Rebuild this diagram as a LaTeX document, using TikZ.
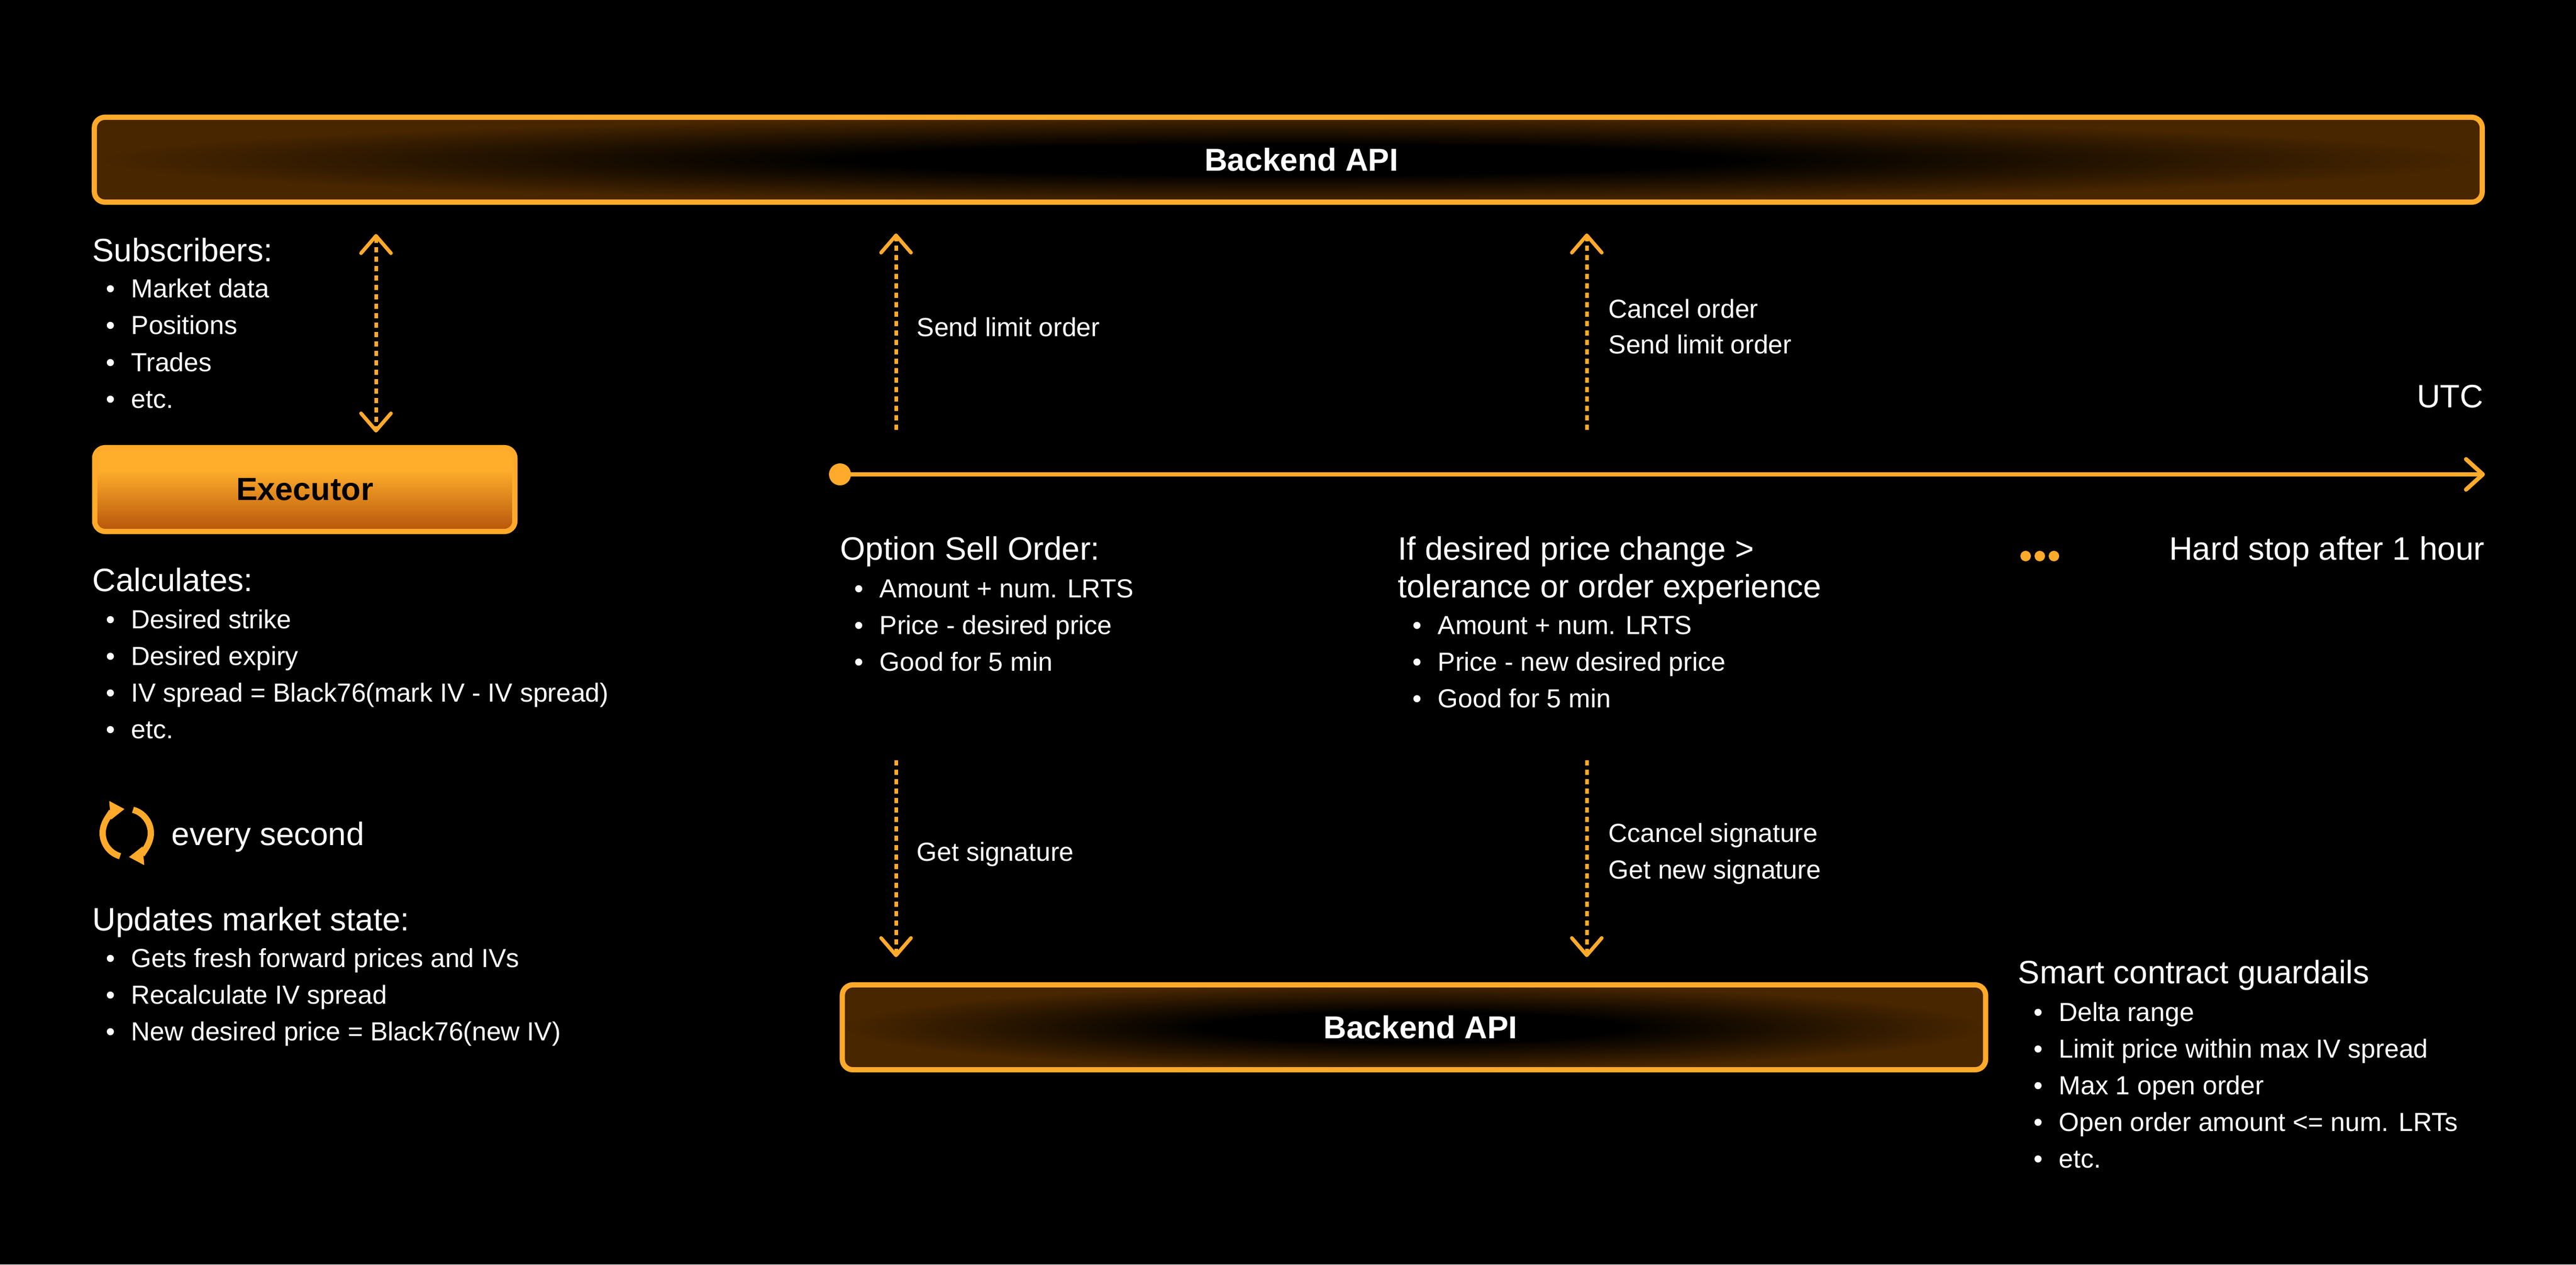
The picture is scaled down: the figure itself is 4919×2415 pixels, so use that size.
\documentclass[tikz,border=0pt]{standalone}
\usepackage{fontspec}
\setmainfont{Liberation Sans}
\usetikzlibrary{arrows.meta}
\usetikzlibrary{calc,positioning}

\definecolor{amber}{RGB}{255,170,42}
\definecolor{apibrown}{RGB}{72,38,0}
\definecolor{exetop}{RGB}{255,174,44}
\definecolor{exebot}{RGB}{182,84,10}

\pgfdeclareradialshading{apiglow}{\pgfpoint{0bp}{0bp}}{color(0bp)=(black); color(9bp)=(black); color(25bp)=(apibrown); color(50bp)=(apibrown)}
\pgfdeclareverticalshading{exeglow}{100bp}{color(0bp)=(exebot); color(25bp)=(exebot); color(62bp)=(exetop); color(100bp)=(exetop)}

\tikzset{
  apibox/.style={draw=amber, line width=0.1cm, rounded corners=0.2cm, shade, shading=apiglow,
    minimum height=1.62cm, inner sep=0pt, text=white, font=\fontsize{17.2}{20}\selectfont\bfseries},
  exebox/.style={draw=amber, line width=0.1cm, rounded corners=0.2cm, shade, shading=exeglow,
    minimum width=8.02cm, minimum height=1.6cm, inner sep=0pt, text=black, font=\fontsize{17.4}{20}\selectfont\bfseries},
  head/.style={anchor=base west, inner sep=0pt, text=white, font=\fontsize{17.6}{21}\selectfont},
  item/.style={anchor=base west, inner sep=0pt, text=white, font=\fontsize{14.2}{17}\selectfont},
  note/.style={anchor=base west, inner sep=0pt, text=white, font=\fontsize{14.2}{17}\selectfont},
  flow/.style={amber, line width=0.07cm, dash pattern=on 0.1cm off 0.08cm},
  spin/.style={amber, line width=0.12cm, -{Triangle[length=0.28cm,width=0.34cm]}},
}

\begin{document}
\begin{tikzpicture}[x=0.01cm, y=-0.01cm, >={Straight Barb[length=0.33cm,width=0.57cm,round]}]
    \fill[black] (0,0) rectangle (4919,2415);

    % boxes
    \node[apibox, minimum width=45.57cm] (apitop) at (2460,305) {\hspace*{0.5cm}Backend API};
    \node[exebox] (exec) at (582,935) {Executor};
    \node[apibox, minimum width=21.82cm] (apibot) at (2700,1962) {\hspace*{0.25cm}Backend API};

    % left column
    \coordinate (subup) at (718,447);
    \coordinate (subdn) at (718,826);
    \draw[flow, <->] (subup) -- (subdn);

    \node[head] (subs) at (176,499) {Subscribers:};
    \foreach \txt [count=\i from 0] in {Market data, Positions, Trades, etc.}
        \node[item] (subs-\i) at (202,568+70.5*\i) {\makebox[0.48cm][l]{•}\txt};

    \node[head] (calc) at (176,1129) {Calculates:};
    \foreach \txt [count=\i from 0] in {Desired strike, Desired expiry, IV spread = Black76(mark IV - IV spread), etc.}
        \node[item] (calc-\i) at (202,1200+70*\i) {\makebox[0.48cm][l]{•}\txt};

    \coordinate (loop) at (242,1591);
    \draw[spin] (loop) ++(106:46) arc[start angle=106, end angle=265, radius=46];
    \draw[spin] (loop) ++(-75:46) arc[start angle=-75, end angle=85, radius=46];
    \node[head] (every) at (327,1614) {every second};

    \node[head] (upd) at (176,1777) {Updates market state:};
    \foreach \txt [count=\i from 0] in {Gets fresh forward prices and IVs, Recalculate IV spread, New desired price = Black76(new IV)}
        \node[item] (upd-\i) at (202,1847+70*\i) {\makebox[0.48cm][l]{•}\txt};

    % timeline
    \coordinate (t0) at (1604,906);
    \coordinate (t1) at (4745,906);
    \draw[amber, line width=0.08cm, -{Straight Barb[length=0.32cm,width=0.58cm,round]}] (t0) -- (t1);
    \fill[amber] (t0) circle (21);
    \node[head, anchor=base east] (utc) at (4743,778) {UTC};

    % calls up and down
    \coordinate (up1a) at (1711,821);
    \coordinate (up1b) at (1711,446);
    \coordinate (up2a) at (3030,821);
    \coordinate (up2b) at (3030,446);
    \draw[flow, ->] (up1a) -- (up1b);
    \draw[flow, ->] (up2a) -- (up2b);
    \node[note] (send1) at (1750,642) {Send limit order};
    \node[note] (cancel) at (3071,607) {Cancel order};
    \node[note] (send2) at (3071,675) {Send limit order};

    \coordinate (dn1a) at (1711,1452);
    \coordinate (dn1b) at (1711,1828);
    \coordinate (dn2a) at (3030,1452);
    \coordinate (dn2b) at (3030,1828);
    \draw[flow, ->] (dn1a) -- (dn1b);
    \draw[flow, ->] (dn2a) -- (dn2b);
    \node[note] (getsig) at (1750,1644) {Get signature};
    \node[note] (ccsig) at (3071,1608) {Ccancel signature};
    \node[note] (newsig) at (3071,1678) {Get new signature};

    % orders
    \node[head] (sell) at (1604,1069) {Option Sell Order:};
    \foreach \txt [count=\i from 0] in {Amount + num. LRTS, Price - desired price, Good for 5 min}
        \node[item] (sell-\i) at (1631,1141+70*\i) {\makebox[0.48cm][l]{•}\txt};

    \node[head] (chg) at (2669,1069) {If desired price change >};
    \node[head] (chg2) at (2669,1141) {tolerance or order experience};
    \foreach \txt [count=\i from 0] in {Amount + num. LRTS, Price - new desired price, Good for 5 min}
        \node[item] (chg-\i) at (2697,1211+70*\i) {\makebox[0.48cm][l]{•}\txt};

    \foreach \k in {0,1,2}
        \fill[amber] (3868+27*\k,1062) circle (10);
    \node[head, anchor=base east] (stop) at (4745,1069) {Hard stop after 1 hour};

    \node[head] (guard) at (3853,1878) {Smart contract guardails};
    \foreach \txt [count=\i from 0] in {Delta range, Limit price within max IV spread, Max 1 open order, Open order amount <= num. LRTs, etc.}
        \node[item] (guard-\i) at (3883,1950+70*\i) {\makebox[0.48cm][l]{•}\txt};
\end{tikzpicture}
\end{document}
